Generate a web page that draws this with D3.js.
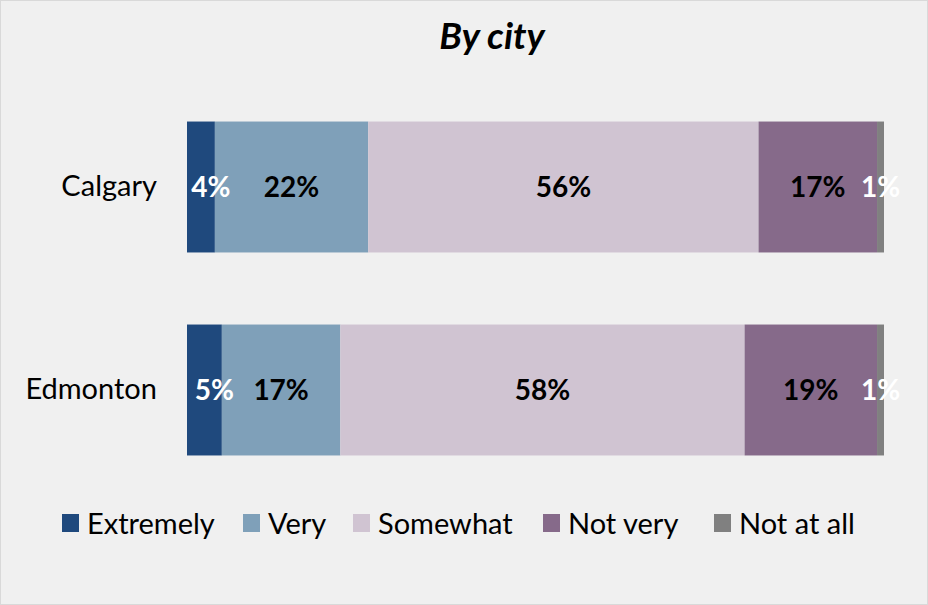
<!DOCTYPE html>
<html><head><meta charset="utf-8">
<script src="https://cdn.jsdelivr.net/npm/d3@7"></script>
<style>body{margin:0;background:#fff}svg{display:block}</style>
</head><body>
<script>
const categories = ["Calgary", "Edmonton"];
const seriesNames = ["Extremely", "Very", "Somewhat", "Not very", "Not at all"];
const extremely = [4, 5];
const very = [22, 17];
const somewhat = [56, 58];
const notVery = [17, 19];
const notAtAll = [1, 1];
const colors = ["#1F497D", "#7FA0B9", "#D0C4D2", "#866A8A", "#808080"];
const labelColors = ["#fff", "#000", "#000", "#000", "#fff"];

const W = 928, H = 605;
const font = "Lato, 'Open Sans', sans-serif";
const svg = d3.select("body").append("svg").attr("width", W).attr("height", H);
svg.append("rect").attr("x", 0.5).attr("y", 0.5).attr("width", W - 1).attr("height", H - 1)
  .attr("fill", "#F0F0F0").attr("stroke", "#D9D9D9");

svg.append("text").attr("x", 492).attr("y", 49).attr("text-anchor", "middle")
  .attr("font-family", font).attr("font-size", 37).attr("font-weight", "bold").attr("font-style", "italic")
  .text("By city");

const x = d3.scaleLinear().domain([0, 100]).range([187, 884]);
const y = d3.scaleBand().domain(categories).range([85.5, 491.5]).paddingInner(0.355).paddingOuter(0.1775);

const values = [extremely, very, somewhat, notVery, notAtAll];
const rows = categories.map((c, i) => {
  const r = { city: c };
  seriesNames.forEach((s, j) => r[s] = values[j][i]);
  return r;
});
const stack = d3.stack().keys(seriesNames)(rows);

const g = svg.append("g");
stack.forEach((layer, j) => {
  g.selectAll(null).data(layer).enter().append("rect")
    .attr("x", d => x(d[0])).attr("width", d => x(d[1]) - x(d[0]))
    .attr("y", d => y(d.data.city)).attr("height", y.bandwidth())
    .attr("fill", colors[j]);
});
stack.forEach((layer, j) => {
  g.selectAll(null).data(layer).enter().append("text")
    .attr("x", d => (x(d[0]) + x(d[1])) / 2)
    .attr("dx", j === 0 ? 10 : 0)
    .attr("y", d => y(d.data.city) + y.bandwidth() / 2)
    .attr("dy", "0.35em").attr("text-anchor", "middle")
    .attr("font-family", font).attr("font-size", 28).attr("font-weight", "bold")
    .attr("fill", labelColors[j])
    .text(d => (d[1] - d[0]) + "%");
});

const yAxis = svg.append("g").attr("transform", "translate(157,0)")
  .call(d3.axisLeft(y).tickSize(0).tickPadding(0));
yAxis.select(".domain").remove();
yAxis.selectAll("text").attr("font-family", font).attr("font-size", 29).attr("fill", "#000");

const legendX = [62, 243, 353, 543, 714];
const leg = svg.append("g");
seriesNames.forEach((s, j) => {
  leg.append("rect").attr("x", legendX[j]).attr("y", 514).attr("width", 17).attr("height", 18).attr("fill", colors[j]);
  leg.append("text").attr("x", legendX[j] + 25).attr("y", 534)
    .attr("font-family", font).attr("font-size", 29).attr("fill", "#000").text(s);
});
</script>
</body></html>
